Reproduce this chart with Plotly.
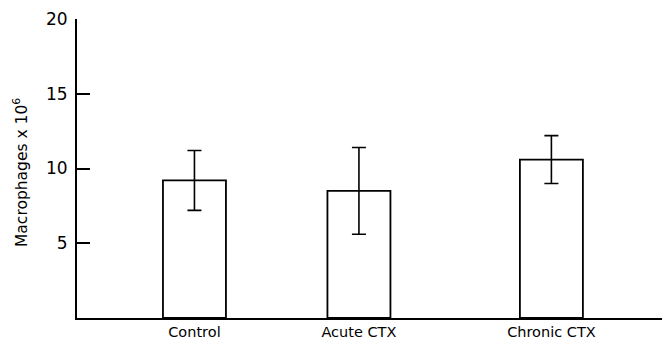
import plotly.graph_objects as go

categories = ["Control", "Acute CTX", "Chronic CTX"]
means = [9.2, 8.5, 10.6]
errors = [2.0, 2.9, 1.6]
y_ticks = [5, 10, 15, 20]

# layout: horizontal bar centres (axis units), uneven as in the original
bar_positions = [1.0, 2.0, 3.17]

fig = go.Figure()
fig.add_trace(go.Bar(
    x=bar_positions, y=means, width=0.383,
    marker=dict(color="white", line=dict(color="black", width=1.8)),
    error_y=dict(type="data", array=errors, visible=True,
                 color="black", thickness=1.6, width=7),
    showlegend=False,
))

font = "DejaVu Sans"
W, H = 662, 331
L, T, B, R = 69, 11, 21, 0
fig.update_layout(
    width=W, height=H,
    margin=dict(l=L, r=R, t=T, b=B, autoexpand=False),
    paper_bgcolor="white", plot_bgcolor="white",
    font=dict(family=font, color="black", size=16),
    xaxis=dict(range=[0.286, 3.891], showgrid=False, zeroline=False,
               showline=True, linecolor="black", linewidth=1.8,
               tickmode="array", tickvals=bar_positions, ticktext=categories,
               ticks="", tickfont=dict(size=14.5), ticklabelstandoff=0,
               automargin=False),
    yaxis=dict(range=[0, 20], showgrid=False, zeroline=False,
               showline=True, linecolor="black", linewidth=1.8,
               tickmode="array", tickvals=y_ticks,
               ticks="inside", ticklen=13, tickwidth=1.6, tickcolor="black",
               tickfont=dict(size=17), ticklabelstandoff=4, automargin=False),
    annotations=[dict(
        text="Macrophages x 10<sup>6</sup>", textangle=-90,
        xref="paper", yref="paper",
        x=(12 - L) / (W - L - R), y=(H - B - 165) / (H - T - B),
        xanchor="center", yanchor="middle", showarrow=False,
        font=dict(size=15.5, family=font),
    )],
)

fig.write_html("out.html")
